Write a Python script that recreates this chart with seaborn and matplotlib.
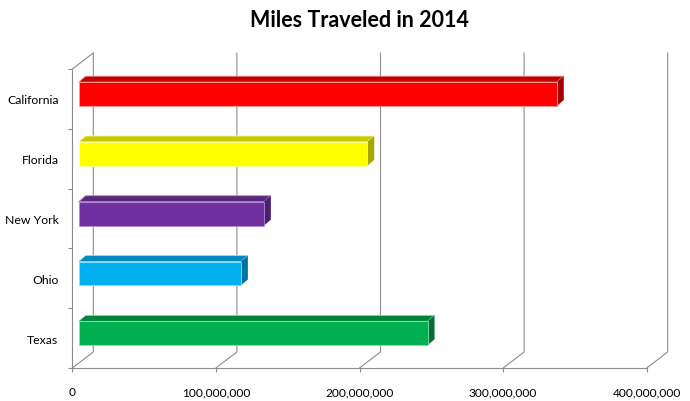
import matplotlib
matplotlib.use("Agg")
import matplotlib.pyplot as plt
import seaborn as sns
import pandas as pd
import numpy as np
from matplotlib.patches import Polygon
from matplotlib.lines import Line2D
from matplotlib.transforms import IdentityTransform
from matplotlib.ticker import MultipleLocator, FuncFormatter, FixedLocator

states = ["California", "Florida", "New York", "Ohio", "Texas"]
miles = [333_000_000, 201_000_000, 129_000_000, 113_000_000, 243_000_000]
front_colors = ["#FF0000", "#FFFF00", "#7030A0", "#00B0F0", "#00B050"]
top_colors = ["#C00000", "#C8C800", "#592680", "#0089C0", "#00843C"]
side_colors = ["#A00000", "#A6A600", "#4A1F6C", "#00729E", "#006F31"]
edge_colors = ["#FF9C9C", "#FFFF9C", "#B08ACF", "#8CDCF8", "#8CE0B0"]
title = "Miles Traveled in 2014"

sns.set_theme(style="white")
plt.rcParams["font.family"] = ["Lato", "DejaVu Sans"]

W, H = 690, 402
fig = plt.figure(figsize=(W / 100, H / 100), dpi=100)
x0, x1 = 72.3, 646.7
ytop, ybot = 70, 369
ax = fig.add_axes([x0 / W, (H - ybot) / H, (x1 - x0) / W, (ybot - ytop) / H])

df = pd.DataFrame({"state": states, "miles": miles})
sns.barplot(data=df, x="miles", y="state", hue="state", palette=front_colors,
            width=0.4, legend=False, ax=ax, saturation=1, zorder=3)
ax.set_xlim(0, 400_000_000)
ax.set_ylim(len(states) - 0.5, -0.5)

grid = "#8C8C8C"
for s in ["top", "right"]:
    ax.spines[s].set_visible(False)
for s in ["left", "bottom"]:
    ax.spines[s].set_color(grid)
    ax.spines[s].set_linewidth(0.8)

ax.xaxis.set_major_locator(MultipleLocator(100_000_000))
ax.xaxis.set_major_formatter(FuncFormatter(lambda v, p: f"{v:,.0f}"))
ax.yaxis.set_minor_locator(FixedLocator(np.arange(-0.5, len(states), 1.0)))
ax.tick_params(axis="x", length=3, width=0.8, color=grid, pad=10,
               labelsize=8.6, labelcolor="#000000", direction="out", bottom=True)
ax.tick_params(axis="y", which="major", length=0, pad=10, labelsize=8.8, labelcolor="#000000")
ax.tick_params(axis="y", which="minor", length=3, width=0.8, color=grid, left=True, direction="out")
ax.set_xlabel("")
ax.set_ylabel("")

fig.canvas.draw()

# depth offsets in display pixels (right, up)
back = np.array([21.0, 16.0])
bar_front = np.array([6.3, 4.8])
bar_back = np.array([13.3, 10.8])
ident = IdentityTransform()

def disp(x, y):
    return np.array(ax.transData.transform((x, y)))

ymin_d, ymax_d = len(states) - 0.5, -0.5
for v in ax.get_xticks():
    if v < 0 or v > 400_000_000:
        continue
    fb = disp(v, ymin_d)
    bb = fb + back
    bt = disp(v, ymax_d) + back
    fig.add_artist(Line2D([fb[0], bb[0], bt[0]], [fb[1], bb[1], bt[1]],
                          transform=ident, color=grid, lw=0.8, zorder=1))
ft = disp(0, ymax_d)
bt = ft + back
fig.add_artist(Line2D([ft[0], bt[0]], [ft[1], bt[1]], transform=ident,
                      color=grid, lw=0.8, zorder=1))

for i, p in enumerate(ax.patches):
    bx, by, bw, bh = p.get_x(), p.get_y(), p.get_width(), p.get_height()
    c1 = disp(bx, by)
    c2 = disp(bx + bw, by + bh)
    xl, xr = min(c1[0], c2[0]), max(c1[0], c2[0])
    yb, yt = min(c1[1], c2[1]), max(c1[1], c2[1])
    p.set_visible(False)
    front = np.array([[xl, yb], [xr, yb], [xr, yt], [xl, yt]]) + bar_front
    top = np.array([[xl, yt] + bar_front, [xr, yt] + bar_front,
                    [xr, yt] + bar_back, [xl, yt] + bar_back])
    side = np.array([[xr, yb] + bar_front, [xr, yt] + bar_front,
                     [xr, yt] + bar_back, [xr, yb] + bar_back])
    fig.add_artist(Polygon(top, closed=True, transform=ident, facecolor=top_colors[i],
                           edgecolor=edge_colors[i], lw=0.6, zorder=3))
    fig.add_artist(Polygon(side, closed=True, transform=ident, facecolor=side_colors[i],
                           edgecolor="none", zorder=3))
    fig.add_artist(Polygon(front, closed=True, transform=ident, facecolor=front_colors[i],
                           edgecolor=edge_colors[i], lw=0.6, zorder=4))

fig.text((x0 + x1) / 2 / W, 1 - 26.7 / H, title, ha="center", va="baseline",
         fontsize=15.5, fontweight="bold", color="#000000")

fig.savefig("out.png", dpi=100)
